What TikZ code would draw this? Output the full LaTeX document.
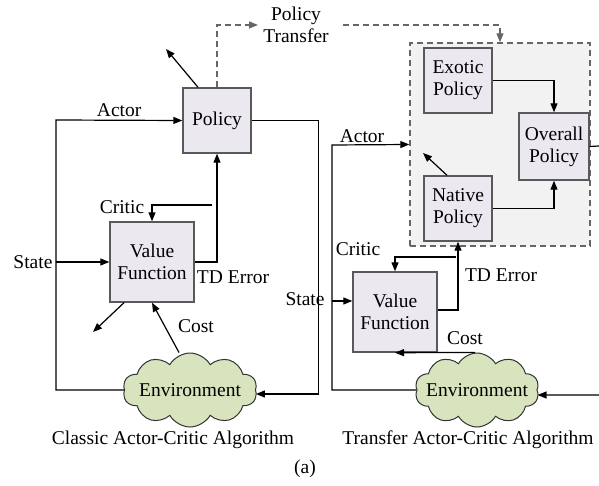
\documentclass[tikz,border=0pt]{standalone}
\usepackage{fontspec}
\setmainfont{Liberation Serif}
\usetikzlibrary{arrows.meta,shapes.symbols}

\definecolor{boxfill}{HTML}{EBE8F0}
\definecolor{cloudfill}{HTML}{D7E4BD}
\definecolor{groupfill}{HTML}{F2F2F2}
\newcommand{\figfont}{\fontsize{19.5}{22}\selectfont}

\begin{document}
\begin{tikzpicture}[x=1pt,y=-1pt,
    every node/.style={font=\figfont},
    block/.style={draw=black!65,line width=1.4pt,fill=boxfill,align=center,inner sep=0pt},
    env/.style={cloud,cloud puffs=10,cloud puff arc=120,cloud ignores aspect,draw=black!80,line width=1pt,fill=cloudfill,inner sep=0pt},
    arr/.style={line width=1.2pt,-{Triangle[length=9pt,width=7pt]}},
    line/.style={line width=1.2pt},
    dashline/.style={dash pattern=on 6pt off 4pt,black!60}]
    \useasboundingbox (0,0) rectangle (599,486);

    % Classic actor-critic
    \node[block,minimum width=68,minimum height=65] (pol) at (217,120.5) {Policy};
    \node[block,minimum width=84,minimum height=80] (val) at (152,262) {Value\\Function};
    \node[env,minimum width=134,minimum height=74,label=center:Environment] (env) at (190,390) {};

    \coordinate (lbus) at (56,120);
    \coordinate (lcrit) at (212,205);
    \coordinate (lout) at (166,49);
    \coordinate (lval) at (93,332);
    \coordinate (ptr) at (258,25);

    \draw[arr] (env.west) -| (lbus) -- (pol.west) node[pos=0.5,above] {Actor};
    \draw[arr] (lbus |- val.west) -- (val.west);
    \node[left] (lstate) at (56,262) {State};
    \draw[arr] (pol.east) -- ++(67,0) |- ([yshift=-4pt]env.east);
    \draw[arr] (val.east) -| (pol.south);
    \node (ltd) at (233,277) {TD Error};
    \draw[arr] (lcrit) -| (val.north);
    \node (lcritic) at (122,207) {Critic};
    \draw[arr] ([xshift=-11pt]env.north) -- (val.south);
    \node (lcost) at (196,326) {Cost};
    \draw[arr] ([xshift=-28pt]val.south) -- (lval);
    \draw[arr] ([xshift=-19pt]pol.north) -- (lout);

    % Policy transfer
    \draw[arr,dashline] (pol.north) |- (ptr);
    \node[align=center] (trans) at (296,25) {Policy\\Transfer};

    % Transfer actor-critic
    \node[draw,dashline,line width=1.4pt,fill=groupfill,minimum width=180,minimum height=203] (grp) at (500,144.5) {};
    \node[block,minimum width=68,minimum height=65] (exo) at (458,80.5) {Exotic\\Policy};
    \node[block,minimum width=68,minimum height=65] (nat) at (458,208.5) {Native\\Policy};
    \node[block,minimum width=70,minimum height=67] (ovr) at (554,146.5) {Overall\\Policy};
    \node[block,minimum width=84,minimum height=80] (rval) at (395,312) {Value\\Function};
    \node[env,minimum width=124,minimum height=74,label=center:Environment] (renv) at (477,390) {};

    \coordinate (ptl) at (343,25);
    \coordinate (rbus) at (332,145);
    \coordinate (rcrit) at (456,257);
    \coordinate (rout) at (423,153);
    \coordinate (rend) at (599,146);
    \coordinate (rin) at (599,395);

    \draw[arr,dashline] (ptl) -| (grp.north);
    \draw[arr] (exo.east) -| (ovr.north);
    \draw[arr] (nat.east) -| (ovr.south);
    \draw[line] (ovr.east) -- (rend);
    \draw[arr] ([xshift=-11pt]nat.north) -- (rout);

    \draw[arr] (renv.west) -| (rbus) -- (grp.west);
    \node (ractor) at (362,136) {Actor};
    \draw[arr] (rbus |- rval.west) ++(0,-11) -- ([yshift=11pt]rval.west);
    \node (rstate) at (305,299) {State};
    \draw[arr] ([yshift=2pt]rval.east) -| (nat.south);
    \node (rtd) at (501,275) {TD Error};
    \draw[arr] (rcrit) -| (rval.north);
    \node (rcritic) at (358,249) {Critic};
    \draw[arr] ([xshift=-2pt]renv.north) -- (rval.south);
    \node (rcost) at (465,338) {Cost};
    \draw[arr] (rin) -- ([yshift=-5pt]renv.east);

    % Captions
    \node (capl) at (173,440) {Classic Actor-Critic Algorithm};
    \node (capr) at (468,440) {Transfer Actor-Critic Algorithm};
    \node (capa) at (305,469) {(a)};
\end{tikzpicture}
\end{document}
